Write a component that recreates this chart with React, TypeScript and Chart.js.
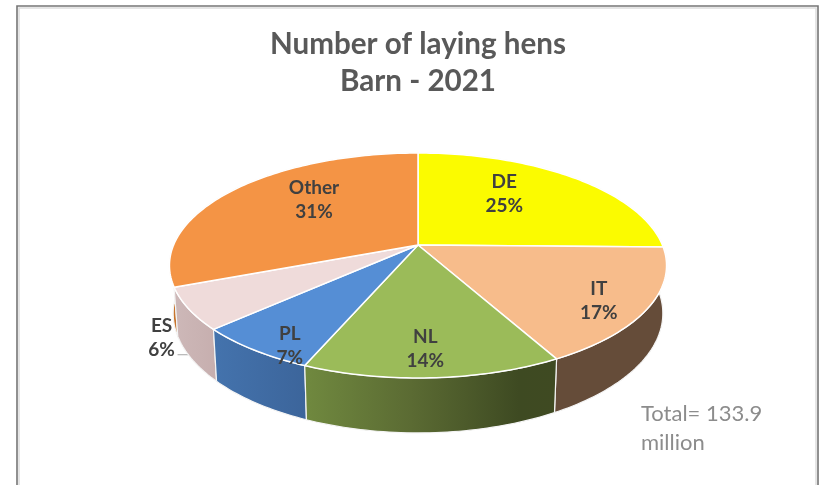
import React, { useEffect, useRef } from "react";
import { Chart, registerables, ArcElement } from "chart.js";

Chart.register(...registerables);

const categories = ["DE", "IT", "NL", "PL", "ES", "Other"];
const shares = [25.3, 16.8, 14.2, 6.8, 6.0, 30.9];
const titleLines = ["Number of laying hens", "Barn - 2021"];
const noteLines = ["Total= 133.9", "million"];
const topColors = ["#FBFB00", "#F7BC8B", "#9BBB59", "#558ED5", "#EFDBDA", "#F49445"];
const wallStops = [
  ["#B5B500", "#B5B500"],
  ["#654C39", "#654C39"],
  ["#70893F", "#5B6B33", "#3E4A22", "#3F4A22"],
  ["#4473AD", "#3C659B"],
  ["#CDB8B8", "#C7AFAF"],
  ["#C8752D", "#C8752D"],
];
const wallOrder = [0, 5, 1, 4, 3, 2];
const labelNudges = [
  [-11, -8.5],
  [48, 20],
  [-1, 30.5],
  [-36, 42],
  [-124.5, 56],
  [10, -10],
];

const TILT = 0.445;
const PERSP = 0.182;
const SHRINK = 0.985;
const DROP = 46.6 / 108.8;
const FONT = "Lato, 'Open Sans', sans-serif";

function project(arc: any, angle: number, r = 1, lower = false) {
  const a = arc.outerRadius;
  const b = a * TILT;
  const u = Math.cos(angle) * r;
  const v = Math.sin(angle) * r;
  const w = 1 - PERSP * v;
  const s = lower ? SHRINK : 1;
  return {
    x: arc.x + (a * s * u) / w,
    y: arc.y + (b * s * v + (lower ? b * DROP : 0)) / w,
  };
}

function traceCurve(ctx: CanvasRenderingContext2D, arc: any, from: number, to: number, lower: boolean, move: boolean) {
  const n = Math.max(8, Math.ceil(Math.abs(to - from) / 0.02));
  for (let i = 0; i <= n; i++) {
    const p = project(arc, from + ((to - from) * i) / n, 1, lower);
    if (i === 0 && move) ctx.moveTo(p.x, p.y);
    else ctx.lineTo(p.x, p.y);
  }
}

// top face of a slice: the library's arc element, seen in perspective
ArcElement.prototype.draw = function (this: any, ctx: CanvasRenderingContext2D) {
  const o = this.options;
  const c = project(this, 0, 0);
  ctx.save();
  ctx.beginPath();
  ctx.moveTo(c.x, c.y);
  traceCurve(ctx, this, this.startAngle, this.endAngle, false, false);
  ctx.closePath();
  ctx.fillStyle = o.backgroundColor;
  ctx.fill();
  ctx.strokeStyle = o.borderColor;
  ctx.lineWidth = o.borderWidth;
  ctx.lineJoin = "round";
  ctx.stroke();
  ctx.restore();
};

const framePlugin = {
  id: "frame",
  beforeDraw(chart: any) {
    const { ctx, width, height } = chart;
    ctx.save();
    ctx.fillStyle = "#ffffff";
    ctx.fillRect(0, 0, width, height);
    ctx.strokeStyle = "#DDDDDD";
    ctx.lineWidth = 1.5;
    ctx.beginPath();
    ctx.moveTo(19, height);
    ctx.lineTo(19, 8);
    ctx.lineTo(816, 8);
    ctx.lineTo(816, height);
    ctx.stroke();
    ctx.strokeStyle = "#757575";
    ctx.lineWidth = 1.6;
    ctx.beginPath();
    ctx.moveTo(17, height);
    ctx.lineTo(17, 6);
    ctx.lineTo(818, 6);
    ctx.lineTo(818, height);
    ctx.stroke();
    ctx.restore();
  },
};

const wallPlugin = {
  id: "walls",
  beforeDatasetsDraw(chart: any) {
    const { ctx } = chart;
    const arcs = chart.getDatasetMeta(0).data;
    // leader line of the small ES label, partly hidden by the wall
    const es = arcs[4];
    const mid = (es.startAngle + es.endAngle) / 2;
    const anchor = project(es, mid, 0.6);
    const lx = anchor.x + labelNudges[4][0];
    const ly = anchor.y + labelNudges[4][1];
    ctx.save();
    ctx.strokeStyle = "#A6A6A6";
    ctx.lineWidth = 1;
    ctx.beginPath();
    ctx.moveTo(lx + 16, ly + 17);
    ctx.lineTo(lx + 27, ly + 17);
    ctx.lineTo(lx + 36, ly + 25);
    ctx.stroke();
    for (const i of wallOrder) {
      const arc = arcs[i];
      const xs: number[] = [];
      for (let k = 0; k <= 24; k++) {
        xs.push(project(arc, arc.startAngle + ((arc.endAngle - arc.startAngle) * k) / 24).x);
      }
      const x0 = Math.min(...xs);
      const x1 = Math.max(...xs);
      const grad = ctx.createLinearGradient(x0, 0, x1, 0);
      wallStops[i].forEach((col, k) => {
        const t = wallStops[i].length === 4 ? [0, 0.42, 0.85, 1][k] : k / (wallStops[i].length - 1);
        grad.addColorStop(t, col);
      });
      ctx.beginPath();
      traceCurve(ctx, arc, arc.startAngle, arc.endAngle, false, true);
      traceCurve(ctx, arc, arc.endAngle, arc.startAngle, true, false);
      ctx.closePath();
      ctx.fillStyle = grad;
      ctx.fill();
      ctx.strokeStyle = "#F4F4F4";
      ctx.lineWidth = 1.2;
      ctx.stroke();
    }
    ctx.restore();
  },
};

const labelPlugin = {
  id: "sliceLabels",
  afterDatasetsDraw(chart: any) {
    const { ctx } = chart;
    const arcs = chart.getDatasetMeta(0).data;
    ctx.save();
    ctx.textAlign = "center";
    ctx.textBaseline = "middle";
    ctx.fillStyle = "#404040";
    ctx.font = `bold 19px ${FONT}`;
    arcs.forEach((arc: any, i: number) => {
      const p = project(arc, (arc.startAngle + arc.endAngle) / 2, 0.6);
      const x = p.x + labelNudges[i][0];
      const y = p.y + labelNudges[i][1];
      ctx.fillText(categories[i], x, y - 12);
      ctx.fillText(`${Math.round(shares[i])}%`, x, y + 12);
    });
    ctx.textAlign = "left";
    ctx.fillStyle = "#8C8C8C";
    ctx.font = `22px ${FONT}`;
    noteLines.forEach((line, i) => ctx.fillText(line, 641, 414 + i * 29));
    ctx.restore();
  },
};

export default function App() {
  const ref = useRef<HTMLCanvasElement>(null);
  useEffect(() => {
    document.body.style.margin = "0";
    const chart = new Chart(ref.current as HTMLCanvasElement, {
      type: "pie",
      data: {
        labels: categories,
        datasets: [
          {
            data: shares,
            backgroundColor: topColors,
            borderColor: "#FFFFFF",
            borderWidth: 1.5,
            clip: false,
          } as any,
        ],
      },
      options: {
        responsive: false,
        animation: false,
        radius: 244.4,
        layout: { padding: { left: 17, right: 0, top: 0, bottom: 95 } },
        plugins: {
          legend: { display: false },
          tooltip: { enabled: false },
          title: {
            display: true,
            text: titleLines,
            color: "#595959",
            font: { family: FONT, size: 29.6, weight: "bold", lineHeight: 1.25 },
            padding: { top: 26, bottom: 0 },
          },
        },
      } as any,
      plugins: [framePlugin, wallPlugin, labelPlugin],
    });
    return () => chart.destroy();
  }, []);
  return (
    <div style={{ position: "absolute", left: 0, top: 0, width: 819, height: 485 }}>
      <canvas ref={ref} width={819} height={485} style={{ display: "block" }} />
    </div>
  );
}
